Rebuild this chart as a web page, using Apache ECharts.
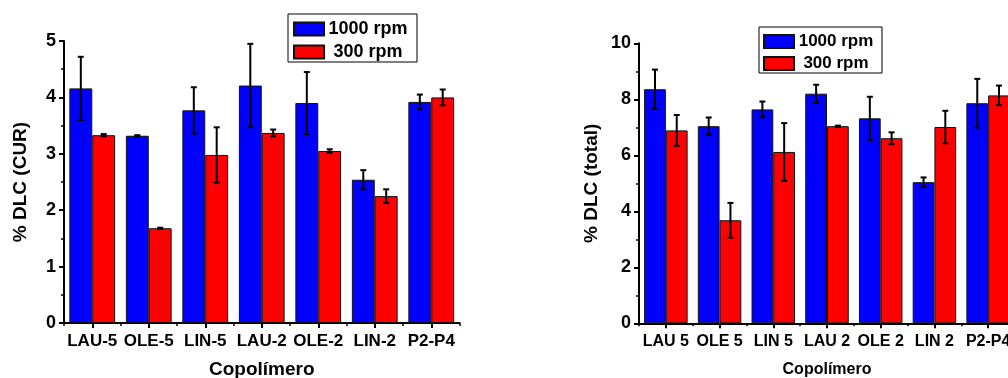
<!DOCTYPE html>
<html>
<head>
<meta charset="utf-8">
<script src="https://cdn.jsdelivr.net/npm/echarts@6/dist/echarts.min.js"></script>
<style>html,body{margin:0;padding:0;background:#fff}#c{width:1008px;height:378px}</style>
</head>
<body>
<div id="c"></div>
<script>
const catsLeft = ['LAU-5','OLE-5','LIN-5','LAU-2','OLE-2','LIN-2','P2-P4'];
const catsRight = ['LAU 5','OLE 5','LIN 5','LAU 2','OLE 2','LIN 2','P2-P4'];
const seriesNames = ['1000 rpm','300 rpm'];
const cur1000 = [4.16, 3.32, 3.77, 4.21, 3.90, 2.54, 3.92];
const cur1000Err = [0.56, 0.01, 0.41, 0.74, 0.55, 0.17, 0.13];
const cur300 = [3.33, 1.68, 2.98, 3.37, 3.05, 2.25, 4.00];
const cur300Err = [0.02, 0.01, 0.49, 0.06, 0.03, 0.12, 0.14];
const tot1000 = [8.36, 7.04, 7.64, 8.20, 7.32, 5.04, 7.86];
const tot1000Err = [0.70, 0.31, 0.28, 0.32, 0.77, 0.17, 0.87];
const tot300 = [6.89, 3.68, 6.12, 7.04, 6.61, 7.01, 8.14];
const tot300Err = [0.55, 0.62, 1.03, 0.02, 0.21, 0.58, 0.35];

const BLUE = '#0000FF', RED = '#FF0000';
const BAR_FRAC = 0.405;
const FONT = 'Liberation Sans, Arial, sans-serif';

function errData(vals, errs){ return vals.map((v,i)=>[i, v, errs[i]]); }
function errRender(side){
  return function(params, api){
    const i = api.value(0), v = api.value(1), e = api.value(2);
    const c = api.coord([i, v]);
    const bw = api.size([1,0])[0] * BAR_FRAC;
    const x = c[0] + side * bw / 2;
    const top = api.coord([i, v + e])[1];
    const bot = api.coord([i, v - e])[1];
    const cap = 3;
    const st = {stroke:'#000', lineWidth:2};
    return {type:'group', children:[
      {type:'line', shape:{x1:x,y1:top,x2:x,y2:bot}, style:st},
      {type:'line', shape:{x1:x-cap,y1:top,x2:x+cap,y2:top}, style:st},
      {type:'line', shape:{x1:x-cap,y1:bot,x2:x+cap,y2:bot}, style:st}
    ]};
  };
}

const axisLine = {show:true, lineStyle:{color:'#000', width:2}};
function mainX(grid, cats, labelSize, nameSize, nameGap){
  return {type:'category', gridIndex:grid, data:cats, position:'bottom',
    axisLine:axisLine,
    axisTick:{show:true, alignWithLabel:true, length:5, interval:0, lineStyle:{color:'#000', width:2}},
    axisLabel:{interval:0, color:'#000', fontWeight:'bold', fontSize:labelSize, fontFamily:FONT, margin:10},
    name:'Copolímero', nameLocation:'middle', nameGap:nameGap,
    nameTextStyle:{color:'#000', fontWeight:'bold', fontSize:nameSize, fontFamily:FONT},
    splitLine:{show:false}};
}
function minorX(grid, cats){
  return {type:'category', gridIndex:grid, data:cats, position:'bottom',
    axisLine:{show:false}, axisLabel:{show:false},
    axisTick:{show:true, alignWithLabel:false, length:3, interval:0, lineStyle:{color:'#000', width:1.5}},
    splitLine:{show:false}};
}
function mainY(grid, max, interval, name, nameGap){
  return {type:'value', gridIndex:grid, min:0, max:max, interval:interval,
    axisLine:axisLine,
    axisTick:{show:true, length:5, lineStyle:{color:'#000', width:2}},
    minorTick:{show:true, splitNumber:2, length:3, lineStyle:{color:'#000', width:1.5}},
    axisLabel:{color:'#000', fontWeight:'bold', fontSize:18, fontFamily:FONT, margin:8},
    splitLine:{show:false}, minorSplitLine:{show:false},
    name:name, nameLocation:'middle', nameGap:nameGap, nameRotate:90,
    nameTextStyle:{color:'#000', fontWeight:'bold', fontSize:19, fontFamily:FONT}};
}
function barSeries(name, x, y, data, color){
  return {type:'bar', name:name, xAxisIndex:x, yAxisIndex:y, data:data,
    barWidth:(BAR_FRAC*100)+'%', barGap:'0%',
    itemStyle:{color:color, borderColor:'#111', borderWidth:1},
    emphasis:{disabled:true}, animation:false};
}
function errSeries(x, y, vals, errs, side){
  return {type:'custom', xAxisIndex:x, yAxisIndex:y, data:errData(vals, errs),
    renderItem:errRender(side), z:5, animation:false, silent:true};
}
function legendAt(left, top, textW, fs, pad){
  return {data:seriesNames, orient:'vertical', left:left, top:top,
    borderColor:'#000', borderWidth:1, padding:pad, itemGap:5,
    itemWidth:30, itemHeight:13, icon:'rect',
    selectedMode:false,
    formatter:'{a|{name}}',
    textStyle:{padding:[0,0,0,-5], rich:{a:{color:'#000', fontWeight:'bold', fontSize:fs, fontFamily:FONT, width:textW, align:'center', lineHeight:18}}}};
}

const chart = echarts.init(document.getElementById('c'), null, {renderer:'canvas'});
chart.setOption({
  animation:false,
  grid:[
    {left:64, top:41, width:395.5, height:282, outerBoundsMode:'none', containLabel:false},
    {left:639, top:43.3, width:376, height:280, outerBoundsMode:'none', containLabel:false}
  ],
  legend:[legendAt(288, 14, 88, 18, [6,5,1,5]), legendAt(759, 27, 84, 17, [6,4,1,4])],
  xAxis:[mainX(0, catsLeft, 17, 19, 37), mainX(1, catsRight, 16, 16, 38), minorX(0, catsLeft), minorX(1, catsRight)],
  yAxis:[mainY(0, 5, 1, '% DLC (CUR)', 34), mainY(1, 10, 2, '% DLC (total)', 38)],
  series:[
    barSeries(seriesNames[0], 0, 0, cur1000, BLUE),
    barSeries(seriesNames[1], 0, 0, cur300, RED),
    barSeries(seriesNames[0], 1, 1, tot1000, BLUE),
    barSeries(seriesNames[1], 1, 1, tot300, RED),
    errSeries(0, 0, cur1000, cur1000Err, -1),
    errSeries(0, 0, cur300, cur300Err, 1),
    errSeries(1, 1, tot1000, tot1000Err, -1),
    errSeries(1, 1, tot300, tot300Err, 1)
  ]
});
</script>
</body>
</html>
